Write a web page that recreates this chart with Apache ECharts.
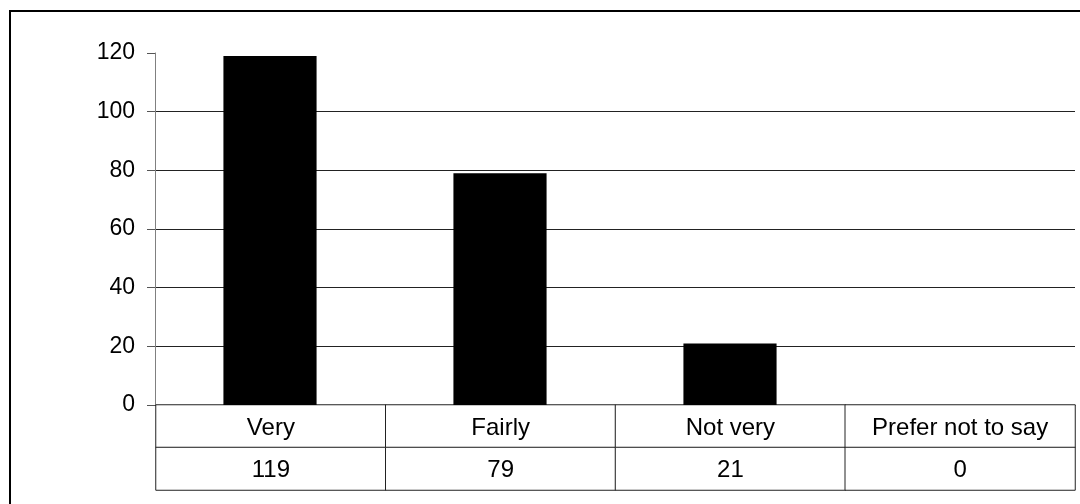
<!DOCTYPE html>
<html>
<head>
<meta charset="utf-8">
<script src="https://cdn.jsdelivr.net/npm/echarts@6/dist/echarts.min.js"></script>
<style>
	html,body{margin:0;padding:0;background:#fff;}
	#chart{width:1080px;height:504px;}
</style>
</head>
<body>
<div id="chart"></div>
<script>
var categories = ['Very', 'Fairly', 'Not very', 'Prefer not to say'];
var counts = [119, 79, 21, 0];
var yTicks = [0, 20, 40, 60, 80, 100, 120];

// table cells: row 0 = category name, row 1 = value
var tableCells = [];
categories.forEach(function(c, i){
	tableCells.push([i, 0, 0]);
	tableCells.push([i, 1, 0]);
});

var font = '"Liberation Sans", Arial, sans-serif';
var chart = echarts.init(document.getElementById('chart'));
var option = {
	animation: false,
	backgroundColor: '#fff',
	graphic: [{
		type: 'rect',
		shape: {x: 10, y: 11, width: 1200, height: 600},
		style: {fill: 'none', stroke: '#000', lineWidth: 2},
		silent: true
	}],
	grid: [
		{left: 155, right: 5, top: 53, bottom: 99},
		{left: 156, right: 5, top: 405, bottom: 14}
	],
	xAxis: [
		{
			type: 'category',
			gridIndex: 0,
			data: categories,
			axisLine: {lineStyle: {color: '#000', width: 1}},
			axisTick: {show: false},
			axisLabel: {show: false}
		},
		{
			type: 'category',
			gridIndex: 1,
			data: categories,
			show: false
		}
	],
	yAxis: [
		{
			type: 'value',
			gridIndex: 0,
			min: yTicks[0],
			max: yTicks[yTicks.length - 1],
			interval: 20,
			axisLine: {show: true, lineStyle: {color: '#808080'}},
			axisTick: {show: true, length: 8, lineStyle: {color: '#555'}},
			axisLabel: {margin: 20, color: '#000', fontSize: 23, fontFamily: font},
			splitLine: {show: true, showMaxLine: false, lineStyle: {color: '#222', width: 1}}
		},
		{
			type: 'category',
			gridIndex: 1,
			data: ['name', 'value'],
			inverse: true,
			show: false
		}
	],
	series: [
		{
			type: 'bar',
			xAxisIndex: 0,
			yAxisIndex: 0,
			data: counts,
			barWidth: '40.5%',
			itemStyle: {color: '#000'}
		},
		{
			type: 'heatmap',
			xAxisIndex: 1,
			yAxisIndex: 1,
			data: tableCells,
			itemStyle: {color: '#fff', borderColor: '#222', borderWidth: 1},
			label: {
				show: true,
				color: '#000',
				fontSize: 24,
				fontFamily: font,
				offset: [0, 2],
				formatter: function(p){
					var i = p.data[0];
					return p.data[1] === 0 ? categories[i] : String(counts[i]);
				}
			},
			emphasis: {disabled: true}
		}
	]
};
chart.setOption(option);
</script>
</body>
</html>
